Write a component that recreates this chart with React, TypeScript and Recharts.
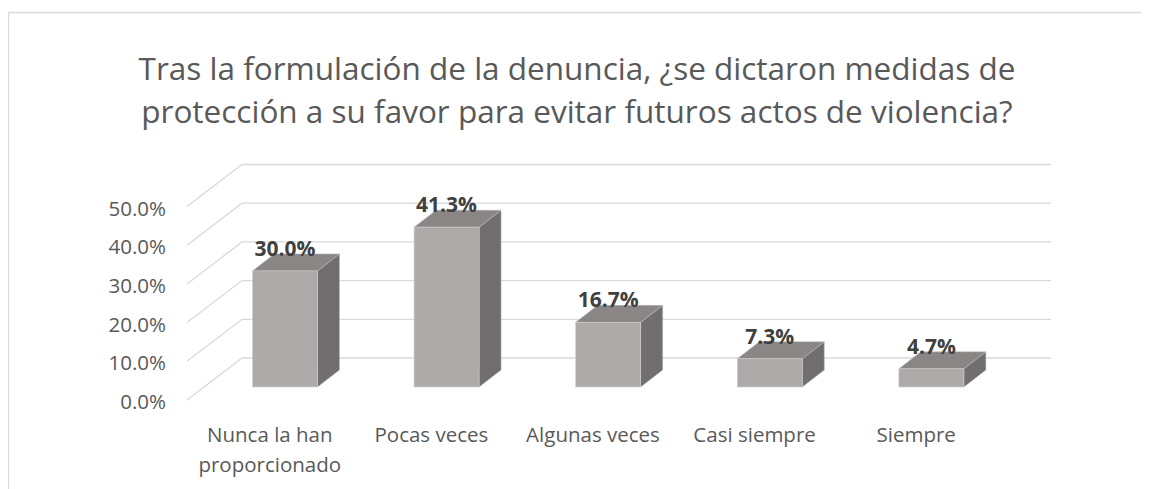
import React from "react";
import { BarChart, Bar, XAxis, YAxis, CartesianGrid, LabelList, Customized } from "recharts";

// values
const categories = ["Nunca la han proporcionado", "Pocas veces", "Algunas veces", "Casi siempre", "Siempre"];
const categoryLines = [["Nunca la han", "proporcionado"], ["Pocas veces"], ["Algunas veces"], ["Casi siempre"], ["Siempre"]];
const percentages = [30.0, 41.3, 16.7, 7.3, 4.7];
const yTicks = [0, 10, 20, 30, 40, 50];
const titleLines = [
  "Tras la formulación de la denuncia, ¿se dictaron medidas de",
  "protección a su favor para evitar futuros actos de violencia?",
];

const FONT = '"Open Sans", "Noto Sans", sans-serif';
const TEXT = "#595959";
const GRID = "#d9d9d9";

// fake 3d offsets
const BAR_DX = 22;
const BAR_DY = 17;
const BACK_DX = 38;
const BACK_DY = 29;
const FRONT_DX = 17;
const FRONT_DY = 13;

const W = 1141;
const H = 481;

export default function App() {
  var data: { name: string; value: number; lines: string[] }[] = [];
  for (var i = 0; i < categories.length; i++) {
    data.push({ name: categories[i], value: percentages[i], lines: categoryLines[i] });
  }

  function Bar3D(props: any) {
    var x = props.x;
    var y = props.y;
    var w = props.width;
    var h = props.height;
    if (w === undefined || h === undefined) return null;
    var top =
      x + "," + y + " " + (x + BAR_DX) + "," + (y - BAR_DY) + " " +
      (x + w + BAR_DX) + "," + (y - BAR_DY) + " " + (x + w) + "," + y;
    var side =
      (x + w) + "," + y + " " + (x + w + BAR_DX) + "," + (y - BAR_DY) + " " +
      (x + w + BAR_DX) + "," + (y + h - BAR_DY) + " " + (x + w) + "," + (y + h);
    return (
      <g>
        <polygon points={side} fill="#706e6e" stroke="#bdbbbb" strokeWidth={0.5} />
        <polygon points={top} fill="#8a8686" stroke="#bdbbbb" strokeWidth={0.5} />
        <rect x={x} y={y} width={w} height={h} fill="#aeaaaa" stroke="#d0cece" strokeWidth={0.6} />
      </g>
    );
  }

  function gridLine(props: any) {
    var y = props.y1;
    var d =
      "M" + (props.x1 - FRONT_DX) + "," + (y + FRONT_DY) +
      " L" + (props.x1 + BACK_DX) + "," + (y - BACK_DY) +
      " L" + (props.x2 + BACK_DX + 1) + "," + (y - BACK_DY);
    return <path key={props.key} d={d} fill="none" stroke={GRID} strokeWidth={1.3} />;
  }

  function YTick(props: any) {
    var v = props.payload.value;
    return (
      <text x={158} y={props.y + 22} textAnchor="end" fontFamily={FONT} fontSize={20.5} fill={TEXT}>
        {v.toFixed(1) + "%"}
      </text>
    );
  }

  function XTick(props: any) {
    var lines = categoryLines[props.index] || [props.payload.value];
    return (
      <g>
        {lines.map(function (l: string, j: number) {
          return (
            <text
              key={j}
              x={props.x - FRONT_DX + 2}
              y={props.y + 55 + j * 30}
              textAnchor="middle"
              fontFamily={FONT}
              fontSize={20.5}
              fill={TEXT}
            >
              {l}
            </text>
          );
        })}
      </g>
    );
  }

  function renderLabel(props: any) {
    var x = props.x + props.width / 2;
    return (
      <text x={x} y={props.y - 15} textAnchor="middle" fontFamily={FONT} fontWeight={700} fontSize={21} fill="#404040">
        {Number(props.value).toFixed(1) + "%"}
      </text>
    );
  }

  function Frame() {
    return (
      <g>
        <line x1={0.5} y1={4.5} x2={W} y2={4.5} stroke={GRID} strokeWidth={1.3} />
        <line x1={0.5} y1={4.5} x2={0.5} y2={H} stroke={GRID} strokeWidth={1.3} />
        {titleLines.map(function (t, k) {
          return (
            <text key={k} x={569} y={72 + k * 43} textAnchor="middle" fontFamily={FONT} fontSize={31.5} fill={TEXT}>
              {t}
            </text>
          );
        })}
      </g>
    );
  }

  return (
    <div style={{ width: W, height: H, background: "#fff" }}>
      <BarChart
        width={W}
        height={H}
        data={data}
        margin={{ top: 185.5, right: 137, bottom: 42, left: 96 }}
        barCategoryGap="30%"
      >
        <Customized component={Frame} />
        <CartesianGrid vertical={false} horizontal={gridLine} />
        <XAxis
          dataKey="name"
          height={60}
          axisLine={false}
          tickLine={false}
          tickSize={0}
          tickMargin={0}
          interval={0}
          tick={XTick}
        />
        <YAxis
          width={100}
          domain={[0, 50]}
          ticks={yTicks}
          axisLine={false}
          tickLine={false}
          tickSize={0}
          tickMargin={0}
          tick={YTick}
        />
        <Bar dataKey="value" shape={Bar3D} isAnimationActive={false}>
          <LabelList dataKey="value" content={renderLabel} />
        </Bar>
      </BarChart>
    </div>
  );
}
